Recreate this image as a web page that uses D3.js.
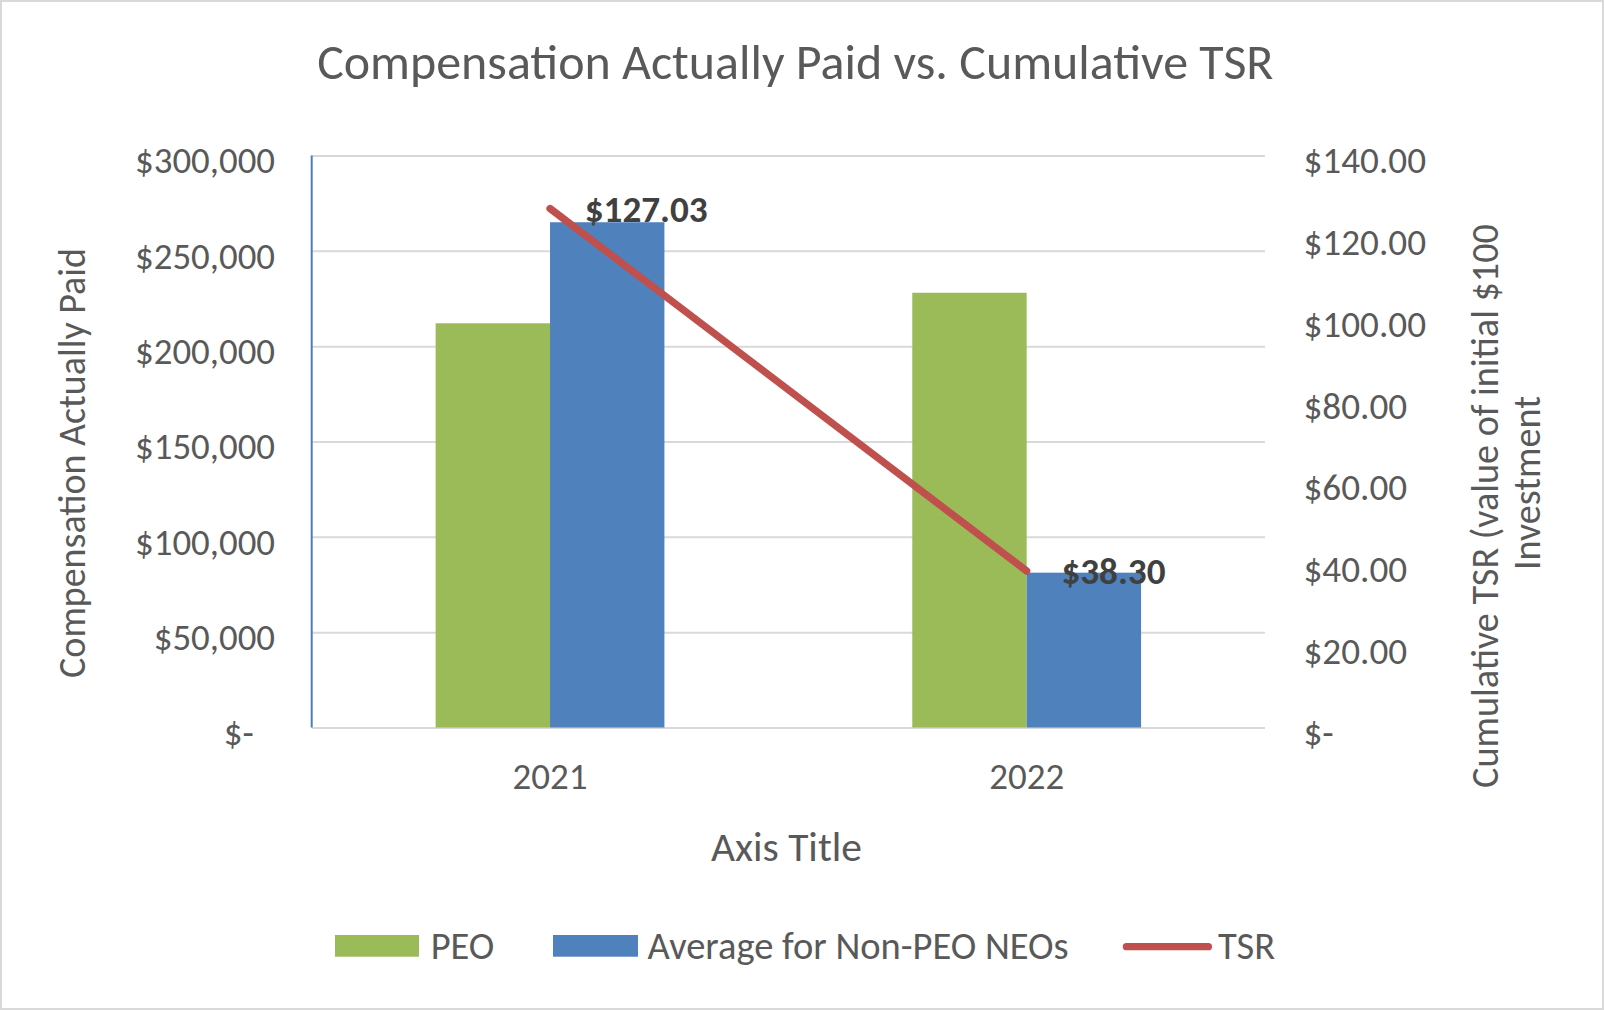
<!DOCTYPE html>
<html><head><meta charset="utf-8">
<script src="https://cdn.jsdelivr.net/npm/d3@7"></script>
<style>
html,body{margin:0;padding:0;background:#fff;}
svg{display:block;}
text{font-family:Carlito, Lato, sans-serif;}
</style>
</head><body>
<svg id="c" width="1604" height="1010"></svg>
<script>
// ---------- data ----------
const years = ["2021", "2022"];
const peoValues = [212000, 228000];
const nonPeoValues = [265000, 81200];
const tsrValues = [127.03, 38.30];
const leftTickValues = [0, 50000, 100000, 150000, 200000, 250000, 300000];
const rightTickValues = [0, 20, 40, 60, 80, 100, 120, 140];
const seriesNames = ["PEO", "Average for Non-PEO NEOs", "TSR"];
const titleText = "Compensation Actually Paid vs. Cumulative TSR";
const leftAxisTitle = "Compensation Actually Paid";
const rightAxisTitleLines = ["Cumulative TSR (value of initial $100", "Investment"];
const xAxisTitle = "Axis Title";

// ---------- layout ----------
const W = 1604, H = 1010;
const plot = {left: 311.7, right: 1265, top: 155.5, bottom: 727.5};
const col = {peo: "#9BBB59", non: "#4F81BD", tsr: "#C0504D", grid: "#D9D9D9",
             text: "#595959", label: "#404040", axis: "#4A7EBB", border: "#D9D9D9"};

const svg = d3.select("#c");

function sizeFor(str, target, weight) {
  const t = svg.append("text").attr("font-size", 100).attr("font-weight", weight || 400).text(str);
  const w = t.node().getComputedTextLength();
  t.remove();
  return 100 * target / w;
}

svg.append("rect").attr("width", W).attr("height", H).attr("fill", "#fff");
svg.append("rect").attr("x", 1).attr("y", 1).attr("width", W - 2).attr("height", H - 2)
  .attr("fill", "none").attr("stroke", col.border).attr("stroke-width", 2);

// ---------- scales ----------
const y = d3.scaleLinear().domain([0, 300000]).range([plot.bottom, plot.top]);
const yR = d3.scaleLinear().domain([0, 140]).range([plot.bottom, plot.top]);
const x0 = d3.scaleBand().domain(years).range([plot.left, plot.right]).padding(0);
const barW = x0.bandwidth() * 0.24;
const x1 = d3.scaleBand().domain(["peo", "non"])
  .range([x0.bandwidth() / 2 - barW, x0.bandwidth() / 2 + barW]).padding(0);

// ---------- gridlines ----------
const grid = svg.append("g").attr("transform", `translate(${plot.left},0)`)
  .call(d3.axisLeft(y).tickValues(leftTickValues).tickSize(-(plot.right - plot.left)).tickFormat(""));
grid.select(".domain").remove();
grid.selectAll("line").attr("stroke", col.grid).attr("stroke-width", 2);

// ---------- bars ----------
const groups = svg.append("g").selectAll("g").data(years).join("g")
  .attr("transform", d => `translate(${x0(d)},0)`);
groups.append("rect")
  .attr("x", x1("peo")).attr("width", x1.bandwidth())
  .attr("y", (d, i) => y(peoValues[i])).attr("height", (d, i) => y(0) - y(peoValues[i]))
  .attr("fill", col.peo);
groups.append("rect")
  .attr("x", x1("non")).attr("width", x1.bandwidth())
  .attr("y", (d, i) => y(nonPeoValues[i])).attr("height", (d, i) => y(0) - y(nonPeoValues[i]))
  .attr("fill", col.non);

// left axis line
svg.append("line").attr("x1", plot.left).attr("x2", plot.left)
  .attr("y1", plot.top).attr("y2", plot.bottom)
  .attr("stroke", col.axis).attr("stroke-width", 2);

// ---------- TSR line ----------
const tsrPts = years.map((d, i) => [x0(d) + x0.bandwidth() / 2, yR(tsrValues[i])]);
svg.append("path").attr("d", d3.line()(tsrPts))
  .attr("fill", "none").attr("stroke", col.tsr).attr("stroke-width", 7.3)
  .attr("stroke-linecap", "round").attr("stroke-linejoin", "round");

const labelSize = sizeFor("$127.03", 123, 700);
svg.append("g").selectAll("text").data(years).join("text")
  .attr("x", (d, i) => tsrPts[i][0] + 34.7)
  .attr("y", (d, i) => tsrPts[i][1])
  .attr("dy", "0.36em")
  .attr("font-size", labelSize).attr("font-weight", 700).attr("fill", col.label)
  .text((d, i) => "$" + d3.format(".2f")(tsrValues[i]));

// ---------- axes ----------
const tickSize = sizeFor("$300,000", 140);
const la = svg.append("g").attr("transform", `translate(${plot.left},0)`)
  .call(d3.axisLeft(y).tickValues(leftTickValues).tickSize(0).tickPadding(36.7)
    .tickFormat(d => d === 0 ? "$-" : d3.format("$,")(d)));
la.select(".domain").remove();
la.selectAll("text").attr("font-size", tickSize).attr("fill", col.text)
  .attr("font-family", "Carlito, Lato, sans-serif")
  .attr("y", 4).attr("dy", "0.36em").attr("dx", d => d === 0 ? -21.3 : 0);

const rTickSize = sizeFor("$140.00", 122.5);
const ra = svg.append("g").attr("transform", `translate(${plot.right},0)`)
  .call(d3.axisRight(yR).tickValues(rightTickValues).tickSize(0).tickPadding(38.5)
    .tickFormat(d => d === 0 ? "$-" : d3.format("$,.2f")(d)));
ra.select(".domain").remove();
ra.selectAll("text").attr("font-size", rTickSize).attr("fill", col.text)
  .attr("font-family", "Carlito, Lato, sans-serif")
  .attr("y", 4).attr("dy", "0.36em");

const xSize = sizeFor("2021", 75);
const xa = svg.append("g").attr("transform", `translate(0,${plot.bottom})`)
  .call(d3.axisBottom(x0).tickSize(0));
xa.select(".domain").remove();
xa.selectAll("text").attr("font-size", xSize).attr("fill", col.text)
  .attr("font-family", "Carlito, Lato, sans-serif")
  .attr("y", 789 - plot.bottom).attr("dy", 0);

// ---------- titles ----------
svg.append("text").attr("x", 795.3).attr("y", 79).attr("text-anchor", "middle")
  .attr("font-size", sizeFor(titleText, 956.5)).attr("fill", col.text).text(titleText);

svg.append("text").attr("x", 786.5).attr("y", 861).attr("text-anchor", "middle")
  .attr("font-size", sizeFor(xAxisTitle, 151)).attr("fill", col.text).text(xAxisTitle);

svg.append("text").attr("transform", "translate(85,463) rotate(-90)").attr("text-anchor", "middle")
  .attr("font-size", sizeFor(leftAxisTitle, 430)).attr("fill", col.text).text(leftAxisTitle);

const rtSize = sizeFor(rightAxisTitleLines[0], 564);
svg.append("text").attr("transform", "translate(1498,506) rotate(-90)").attr("text-anchor", "middle")
  .attr("font-size", rtSize).attr("fill", col.text).text(rightAxisTitleLines[0]);
svg.append("text").attr("transform", "translate(1540,483) rotate(-90)").attr("text-anchor", "middle")
  .attr("font-size", rtSize).attr("fill", col.text).text(rightAxisTitleLines[1]);

// ---------- legend ----------
const legSize = sizeFor(seriesNames[1], 421);
const leg = svg.append("g");
leg.append("rect").attr("x", 335).attr("y", 935).attr("width", 84).attr("height", 21.7).attr("fill", col.peo);
leg.append("rect").attr("x", 553).attr("y", 935).attr("width", 85).attr("height", 21.7).attr("fill", col.non);
leg.append("line").attr("x1", 1126.4).attr("x2", 1208.4).attr("y1", 946.7).attr("y2", 946.7)
  .attr("stroke", col.tsr).attr("stroke-width", 7.3).attr("stroke-linecap", "round");
const legX = [430.7, 647.6, 1218];
leg.selectAll("text").data(seriesNames).join("text")
  .attr("x", (d, i) => legX[i]).attr("y", 959.3)
  .attr("font-size", legSize).attr("fill", col.text).text(d => d);
</script>
</body></html>
